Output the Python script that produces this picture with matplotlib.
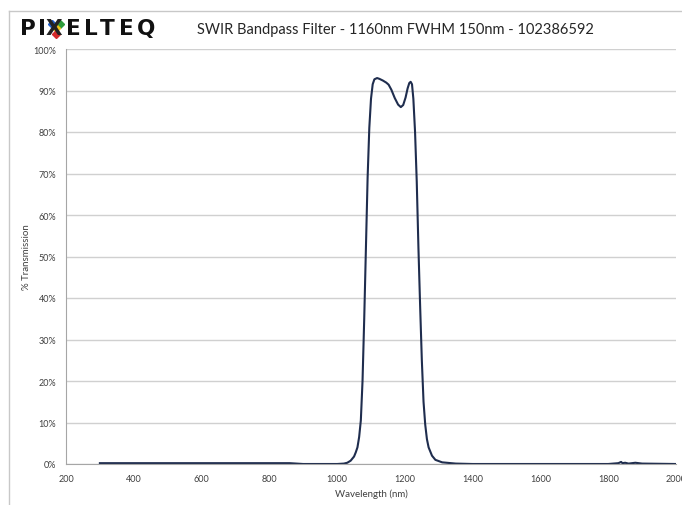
import matplotlib.pyplot as plt
from matplotlib.lines import Line2D

plt.rcParams['font.family'] = ['Lato', 'DejaVu Sans']

# Transmission curve
wavelength = [300, 400, 500, 600, 700, 800, 860, 900, 1000, 1020, 1030, 1040, 1050, 1055,
              1060, 1065, 1070, 1075, 1080, 1085, 1090, 1095, 1100, 1105, 1110, 1118,
              1125, 1135, 1145, 1152, 1160, 1170, 1180, 1188, 1195, 1202, 1208, 1213,
              1217, 1221, 1225, 1230, 1235, 1240, 1245, 1250, 1255, 1260, 1265, 1270,
              1280, 1290, 1310, 1350, 1400, 1500, 1600, 1700, 1800, 1830, 1838, 1842,
              1850, 1860, 1880, 1900, 2000]
transmission = [0.2, 0.2, 0.2, 0.2, 0.2, 0.2, 0.2, 0.0, 0.0, 0.1, 0.3, 0.8, 1.8, 2.8,
                4.0, 6.5, 10.5, 20, 35, 52, 69, 81, 88, 91.5, 92.7, 93.0,
                92.8, 92.4, 91.9, 91.4, 90.2, 88.2, 86.6, 86.0, 86.5, 88.3, 90.5, 91.8,
                92.1, 91.5, 88, 80, 68, 52, 38, 25, 15, 9.5, 6, 4,
                2, 1, 0.4, 0.1, 0.0, 0.0, 0.0, 0.0, 0.0, 0.2, 0.5, 0.2,
                0.3, 0.1, 0.3, 0.1, 0.0]

x_ticks = [200, 400, 600, 800, 1000, 1200, 1400, 1600, 1800, 2000]
y_ticks = [0, 10, 20, 30, 40, 50, 60, 70, 80, 90, 100]

W, H = 682, 506
fig = plt.figure(figsize=(W / 100, H / 100), dpi=100)
ax = fig.add_axes([66 / W, 1 - 465 / H, 610 / W, 415 / H])

ax.plot(wavelength, transmission, color='#1f2d4e', linewidth=1.5)

ax.set_xlim(200, 2000)
ax.set_ylim(0, 100)
ax.set_xticks(x_ticks)
ax.set_yticks(y_ticks)
ax.set_yticklabels([f'{v}%' for v in y_ticks])
ax.tick_params(colors='#404040', labelsize=6.5, length=0, pad=7)
ax.grid(axis='y', color='#d0d0d0', linewidth=1)
ax.set_axisbelow(True)
for s in ['top', 'right']:
    ax.spines[s].set_visible(False)
ax.spines['left'].set_color('#a6a6a6')
ax.spines['bottom'].set_color('#a6a6a6')

ax.set_xlabel('Wavelength (nm)', fontsize=7, color='#404040', labelpad=4)
ax.set_ylabel('% Transmission', fontsize=7, color='#404040', labelpad=2)

fig.text(395 / W, 1 - 30 / H, 'SWIR Bandpass Filter - 1160nm FWHM 150nm - 102386592',
         ha='center', va='center', fontsize=10.5, color='#262626')

# logo, letter by letter
logo_y = 1 - 29 / H
for letter, left in [('P', 20), ('I', 38.5), ('E', 66.5), ('L', 84), ('T', 100),
                     ('E', 119), ('Q', 136.5)]:
    fig.text(left / W, logo_y, letter, fontsize=15.5, fontweight='bold',
             ha='left', va='center', color='#111111', family='DejaVu Sans')
fig.text(46 / W, logo_y, 'X', fontsize=15.5, fontweight='bold',
         ha='left', va='center', color='#222222', family='DejaVu Sans')
cx = 55.5
for dx, dy, c in [(-4, 4, '#1f5fc8'), (4, 4, '#2e9c3b'), (0, 0, '#f0c419'),
                  (0, -6, '#d42a2a')]:
    fig.add_artist(Line2D([(cx + dx) / W], [logo_y + dy / H], marker='D', markersize=4,
                          color=c, linestyle='none'))

# outer frame (top and left edges visible)
fig.add_artist(Line2D([9 / W, 1], [1 - 12 / H, 1 - 12 / H], color='#c8c8c8', linewidth=1))
fig.add_artist(Line2D([9 / W, 9 / W], [0, 1 - 12 / H], color='#c8c8c8', linewidth=1))

fig.savefig('out.png', dpi=100)
